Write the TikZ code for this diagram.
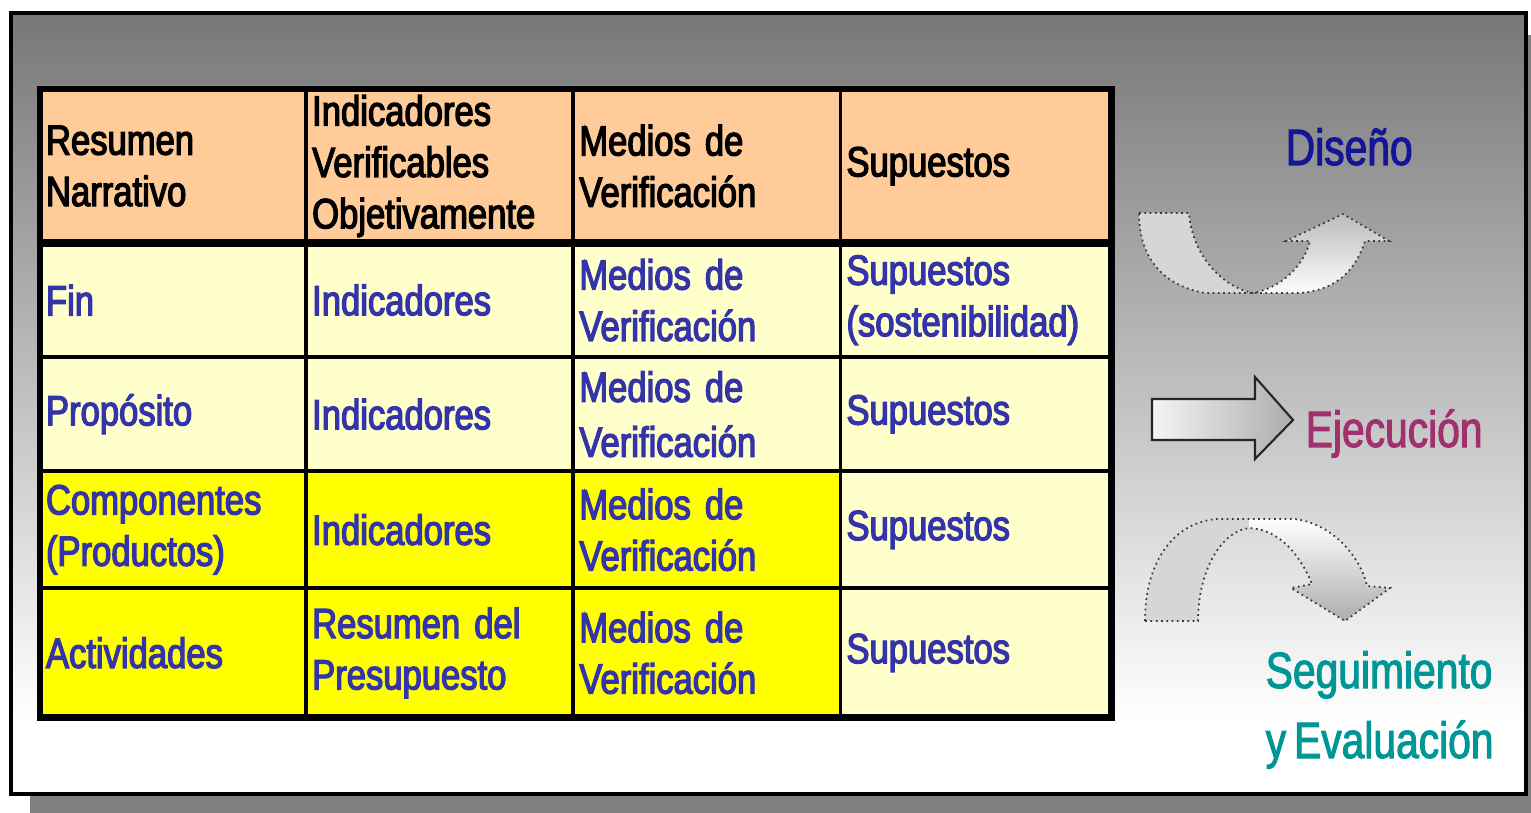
\documentclass[tikz,border=0pt]{standalone}
\usepackage{fontspec}
\usepackage{tikz}
\setmainfont{Liberation Sans}
\newfontfamily\cellfont[FakeStretch=0.82,FakeBold=3,WordSpace=0.7]{Liberation Sans}
\newfontfamily\labfont[FakeStretch=0.8,FakeBold=2,WordSpace=0.7]{Liberation Sans}
\newcommand\tablefont{\cellfont\fontsize{12}{14.6}\selectfont}
\newcommand\labelfont{\labfont\fontsize{14.5}{17}\selectfont}
\definecolor{hdrpeach}{RGB}{255,204,153}
\definecolor{paleyel}{RGB}{255,255,204}
\definecolor{brightyel}{RGB}{255,255,0}
\definecolor{txtblue}{RGB}{51,51,170}
\definecolor{disblue}{RGB}{20,20,150}
\definecolor{ejemag}{RGB}{160,48,110}
\definecolor{segteal}{RGB}{0,150,150}
\definecolor{framegray}{RGB}{119,119,119}
\definecolor{shadowgray}{RGB}{128,128,128}

\begin{document}
\begin{tikzpicture}[x=0.01cm,y=-0.01cm,
  cell/.style={draw=black,line width=1.1pt,anchor=north west,outer sep=0pt,inner xsep=0.06cm,inner ysep=0pt,align=left,font=\tablefont},
  hdr/.style={cell,fill=hdrpeach,text=black},
  pale/.style={cell,fill=paleyel,text=txtblue},
  yel/.style={cell,fill=brightyel,text=txtblue},
  colA/.style={text width=2.54cm},
  colB/.style={text width=2.55cm},
  colC/.style={text width=2.55cm},
  colD/.style={text width=2.59cm},
  lab/.style={font=\labelfont,inner sep=0pt,anchor=base west},
  arrline/.style={draw=gray!45!black,line width=0.5pt,densely dotted}]
\useasboundingbox (0,0) rectangle (1531,813);
% frame with shadow
\fill[white] (0,0) rectangle (1531,813);
\fill[shadowgray] (30,35) rectangle (1531,813);
\shade[top color=framegray,bottom color=white] (11,13) rectangle (1526,720);
\fill[white] (11,719) rectangle (1526,794);
\draw[line width=1pt] (11,13) rectangle (1526,794);

% header row
\node[hdr,colA,minimum height=1.54cm] (h1) at (40,89) {Resumen\\Narrativo};
\node[hdr,colB,minimum height=1.54cm] (h2) at (h1.north east) {Indicadores\\Verificables\\Objetivamente};
\node[hdr,colC,minimum height=1.54cm] (h3) at (h2.north east) {Medios de\\Verificación};
\node[hdr,colD,minimum height=1.54cm] (h4) at (h3.north east) {Supuestos};

% fin
\node[pale,colA,minimum height=1.14cm] (fin1) at (h1.south west) {Fin};
\node[pale,colB,minimum height=1.14cm] (fin2) at (fin1.north east) {Indicadores};
\node[pale,colC,minimum height=1.14cm] (fin3) at (fin2.north east) {Medios de\\Verificación};
\node[pale,colD,minimum height=1.14cm] (fin4) at (fin3.north east) {Supuestos\\(sostenibilidad)};

% proposito
\node[pale,colA,minimum height=1.14cm] (pro1) at (fin1.south west) {Propósito};
\node[pale,colB,minimum height=1.14cm] (pro2) at (pro1.north east) {Indicadores};
\node[pale,colC,minimum height=1.14cm] (pro3) at (pro2.north east) {Medios de\\[1pt]Verificación};
\node[pale,colD,minimum height=1.14cm] (pro4) at (pro3.north east) {Supuestos};

% componentes
\node[yel,colA,minimum height=1.17cm] (com1) at (pro1.south west) {Componentes\\(Productos)};
\node[yel,colB,minimum height=1.17cm] (com2) at (com1.north east) {Indicadores};
\node[yel,colC,minimum height=1.17cm] (com3) at (com2.north east) {Medios de\\Verificación};
\node[pale,colD,minimum height=1.17cm] (com4) at (com3.north east) {Supuestos};

% actividades
\node[yel,colA,minimum height=1.29cm] (act1) at (com1.south west) {Actividades};
\node[yel,colB,minimum height=1.29cm] (act2) at (act1.north east) {Resumen del\\Presupuesto};
\node[yel,colC,minimum height=1.29cm] (act3) at (act2.north east) {Medios de\\Verificación};
\node[pale,colD,minimum height=1.29cm] (act4) at (act3.north east) {Supuestos};

\draw[line width=1.8pt] (h1.north west) rectangle (act4.south east);
\draw[line width=2.4pt] (h1.south west) -- (h4.south east);

% arrows
\draw[arrline,path picture={
    \fill[gray!32] (1100,180) rectangle (1253,320);
    \shade[top color=gray!55,bottom color=white] (1253,210) rectangle (1400,296);}]
  (1139,213) -- (1189,213) .. controls (1192,255) and (1222,287) .. (1253,293)
  .. controls (1285,287) and (1305,262) .. (1310,241) -- (1286,241) -- (1343,214)
  -- (1389,241) -- (1365,241) .. controls (1355,272) and (1335,290) .. (1300,293)
  -- (1205,293) .. controls (1160,285) and (1139,255) .. (1139,213) -- cycle;
\draw[draw=gray!30!black,line width=0.6pt,left color=gray!8,right color=gray!65]
  (1152,399) -- (1255,399) -- (1255,377) -- (1293,420) -- (1255,459)
  -- (1255,440) -- (1152,440) -- cycle;
\draw[arrline,path picture={
    \fill[gray!32] (1100,500) rectangle (1249,640);
    \shade[top color=white,bottom color=gray!65] (1249,519) rectangle (1400,622);}]
  (1145,621) .. controls (1145,560) and (1175,522) .. (1217,519) -- (1293,519)
  .. controls (1330,522) and (1360,555) .. (1367,586) -- (1390,588) -- (1345,621)
  -- (1291,588) -- (1312,584) .. controls (1300,555) and (1280,530) .. (1250,528)
  .. controls (1222,530) and (1198,570) .. (1198,621) -- cycle;

% labels
\node[lab,text=disblue] (dis) at (1285,165) {Diseño};
\node[lab,text=ejemag] (eje) at (1305,447) {Ejecución};
\node[lab,text=segteal] (seg) at (1265,688) {Seguimiento};
\node[lab,text=segteal] (evl) at (1265,758) {y Evaluación};
\end{tikzpicture}
\end{document}
